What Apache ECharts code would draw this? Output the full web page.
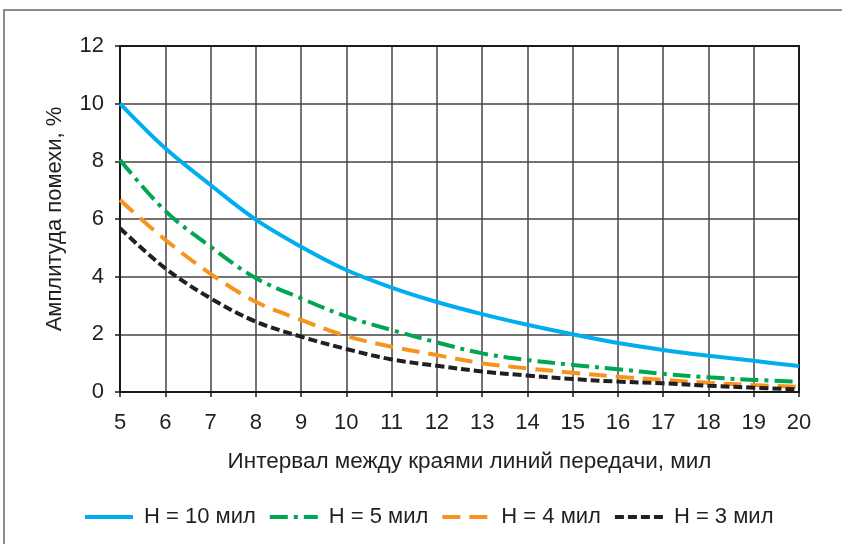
<!DOCTYPE html>
<html>
<head>
<meta charset="utf-8">
<script src="https://cdn.jsdelivr.net/npm/echarts@6/dist/echarts.min.js"></script>
<style>
  html, body { margin: 0; padding: 0; background: #fff; }
  #chart { width: 842px; height: 544px; }
</style>
</head>
<body>
<div id="chart"></div>
<script>
// spacing between line edges, mil
var spacing = [5, 6, 7, 8, 9, 10, 11, 12, 13, 14, 15, 16, 17, 18, 19, 20];

// crosstalk amplitude, %
var h10 = [10.0, 8.45, 7.18, 5.98, 5.04, 4.23, 3.62, 3.12, 2.7, 2.33, 2.0, 1.7, 1.46, 1.26, 1.08, 0.9];
var h5 = [8.05, 6.28, 5.04, 3.95, 3.25, 2.62, 2.15, 1.72, 1.34, 1.11, 0.94, 0.79, 0.63, 0.51, 0.42, 0.36];
var h4 = [6.66, 5.28, 4.1, 3.13, 2.5, 1.94, 1.57, 1.28, 1.0, 0.82, 0.67, 0.53, 0.42, 0.32, 0.24, 0.18];
var h3 = [5.68, 4.29, 3.25, 2.44, 1.92, 1.49, 1.13, 0.91, 0.71, 0.57, 0.45, 0.36, 0.3, 0.22, 0.15, 0.09];

var names = ['H = 10 мил', 'H = 5 мил', 'H = 4 мил', 'H = 3 мил'];
var colors = ['#00aeef', '#00a651', '#f7941d', '#231f20'];
var dashes = ['solid', [18, 6, 4, 6], [18, 9], [9, 4]];
var yTicks = [0, 2, 4, 6, 8, 10, 12];

var font = 'Liberation Sans, Arial, sans-serif';
var textColor = '#231f20';
var frameColor = '#1a1a1a';
var gridColor = '#444';

function pairs(vals) {
  return spacing.map(function (x, i) { return [x, vals[i]]; });
}

function makeLine(i, vals) {
  return {
    name: names[i],
    type: 'line',
    smooth: 0.35,
    symbol: 'none',
    data: pairs(vals),
    lineStyle: { color: colors[i], width: 4, type: dashes[i] },
    itemStyle: { color: colors[i] }
  };
}

// top / right border of the plot box
function frameAxis(pos, isX) {
  var a = {
    type: 'value',
    position: pos,
    axisLine: { show: true, onZero: false, lineStyle: { color: frameColor, width: 2 } },
    axisTick: { show: false },
    axisLabel: { show: false },
    splitLine: { show: false }
  };
  if (isX) { a.min = 5; a.max = 20; } else { a.min = 0; a.max = 12; }
  return a;
}

var chart = echarts.init(document.getElementById('chart'));

var option = {
  backgroundColor: '#fff',
  animation: false,
  grid: { left: 120, right: 43, top: 46, bottom: 152 },
  graphic: [
    {
      type: 'polyline',
      shape: { points: [[4, 600], [4, 10], [900, 10]] },
      style: { stroke: '#8c8c8c', lineWidth: 2, fill: null }
    }
  ],
  legend: {
    top: 501,
    left: 78,
    itemWidth: 48,
    itemHeight: 14,
    itemGap: 12,
    data: names.map(function (n, i) {
      return {
        name: n,
        itemStyle: { opacity: 0 },
        lineStyle: { color: colors[i], width: 4, type: dashes[i] }
      };
    }),
    textStyle: { fontFamily: font, fontSize: 22, color: textColor, padding: [0, 0, 0, 6] }
  },
  xAxis: [
    {
      type: 'value',
      min: 5,
      max: 20,
      interval: 1,
      name: 'Интервал между краями линий передачи, мил',
      nameLocation: 'middle',
      nameGap: 58,
      nameTextStyle: { fontFamily: font, fontSize: 22.5, color: textColor, padding: [0, 0, 0, 20] },
      axisLine: { show: true, lineStyle: { color: frameColor, width: 2 } },
      axisTick: { show: true, length: 5, lineStyle: { color: frameColor, width: 1.5 } },
      axisLabel: { margin: 20, fontFamily: font, fontSize: 22, color: textColor },
      splitLine: { show: true, lineStyle: { color: gridColor, width: 1.5 } }
    },
    frameAxis('top', true)
  ],
  yAxis: [
    {
      type: 'value',
      min: yTicks[0],
      max: yTicks[yTicks.length - 1],
      interval: 2,
      name: 'Амплитуда помехи, %',
      nameLocation: 'middle',
      nameGap: 54,
      nameTextStyle: { fontFamily: font, fontSize: 22, color: textColor },
      axisLine: { show: true, lineStyle: { color: frameColor, width: 2 } },
      axisTick: { show: true, length: 5, lineStyle: { color: frameColor, width: 1.5 } },
      axisLabel: { margin: 16, fontFamily: font, fontSize: 22, color: textColor },
      splitLine: { show: true, lineStyle: { color: gridColor, width: 1.5 } }
    },
    frameAxis('right', false)
  ],
  series: [
    makeLine(0, h10),
    makeLine(1, h5),
    makeLine(2, h4),
    makeLine(3, h3)
  ]
};

chart.setOption(option);
</script>
</body>
</html>
